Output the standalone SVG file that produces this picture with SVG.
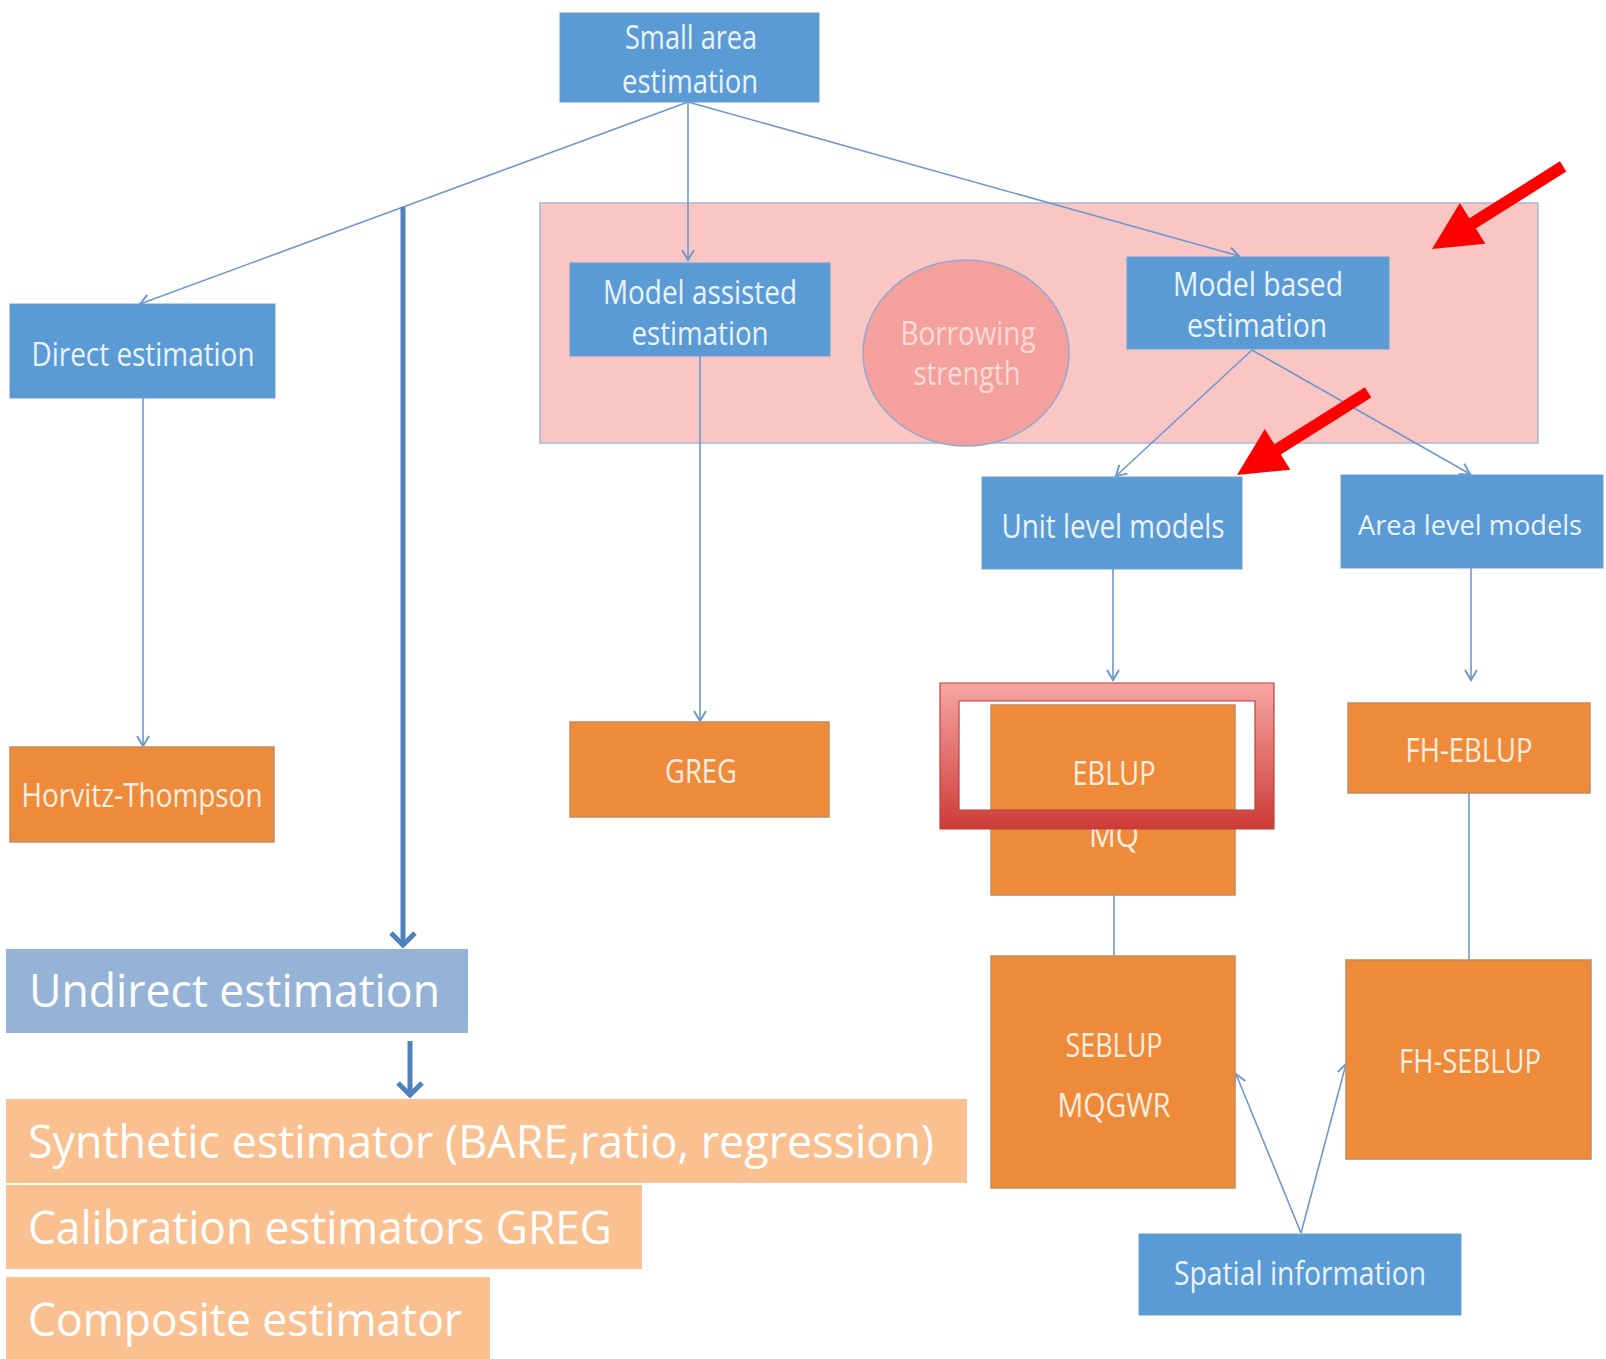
<svg xmlns="http://www.w3.org/2000/svg" width="1606" height="1359" viewBox="0 0 1606 1359">
<defs>
<style>
.blue{fill:#5b9bd5;stroke:#6a9fd2;stroke-width:1}
.org{fill:#ee8b3b;stroke:#c98a5c;stroke-width:1.5}
.t{font-family:"Open Sans","Liberation Sans",sans-serif;font-size:32px;fill:#eaf3fb;text-anchor:middle}
.to{font-family:"Open Sans","Liberation Sans",sans-serif;font-size:32px;fill:#fdeee0;text-anchor:middle}
.big{font-family:"Open Sans","Liberation Sans",sans-serif;font-size:45px;fill:#ffffff}
.c{stroke:#6f98cf;stroke-width:1.6;fill:none}
.ca{stroke:#6f98cf;stroke-width:1.6;fill:none;marker-end:url(#ah)}
.thick{stroke:#4f81bd;stroke-width:5;fill:none;marker-end:url(#ahb)}
.light{fill:#fac090}
</style>
<marker id="ah" markerWidth="16" markerHeight="16" viewBox="-12 -8 14 16" refX="0" refY="0" orient="auto" markerUnits="userSpaceOnUse">
<path d="M-10,-6 L0,0 L-10,6" fill="none" stroke="#6f98cf" stroke-width="2"/>
</marker>
<marker id="ahb" markerWidth="30" markerHeight="30" viewBox="-16 -15 18 30" refX="0" refY="0" orient="auto" markerUnits="userSpaceOnUse">
<path d="M-13,-12 L-1,0 L-13,12" fill="none" stroke="#4f81bd" stroke-width="5"/>
</marker>
<linearGradient id="rg" x1="0" y1="0" x2="0" y2="1">
<stop offset="0" stop-color="#f6a6a2"/>
<stop offset="1" stop-color="#cd3b37"/>
</linearGradient>
<polygon id="redarrow" points="0,0 53.4,-5.3 43.8,-20.5 134.3,-77.5 127.9,-87.7 37.4,-30.7 27.8,-45.9" fill="#ff0000"/>
</defs>
<rect width="1606" height="1359" fill="#ffffff"/>

<g id="region-box">
<rect x="540" y="203" width="998" height="240" fill="#f9c6c4" stroke="#a6b7d8" stroke-width="1.5"/>
</g>

<g id="connectors">
<line class="ca" x1="688" y1="102" x2="140" y2="304"/>
<line class="ca" x1="688" y1="102" x2="688" y2="260"/>
<line class="ca" x1="688" y1="102" x2="1239" y2="256"/>
<line class="ca" x1="700" y1="356" x2="700" y2="721"/>
<line class="ca" x1="143" y1="398" x2="143" y2="746"/>
<line class="ca" x1="1252" y1="350" x2="1116" y2="476"/>
<line class="ca" x1="1252" y1="350" x2="1470" y2="474"/>
<line class="ca" x1="1113" y1="569" x2="1113" y2="680"/>
<line class="ca" x1="1471" y1="568" x2="1471" y2="680"/>
<line class="c" x1="1114" y1="895" x2="1114" y2="956"/>
<line class="c" x1="1469" y1="793" x2="1469" y2="960"/>
<line class="ca" x1="1301" y1="1233" x2="1236" y2="1074"/>
<line class="ca" x1="1301" y1="1233" x2="1346" y2="1064"/>
<line class="thick" x1="403" y1="207" x2="403" y2="946"/>
<line class="thick" x1="410" y1="1041" x2="410" y2="1096"/>
</g>

<g id="n-small-area">
<rect class="blue" x="560" y="13" width="259" height="89"/>
<text class="t" x="691" y="49" textLength="132" lengthAdjust="spacingAndGlyphs">Small area</text>
<text class="t" x="690" y="93" textLength="136" lengthAdjust="spacingAndGlyphs">estimation</text>
</g>

<g id="n-direct">
<rect class="blue" x="10" y="304" width="265" height="94"/>
<text class="t" x="143" y="366" textLength="223" lengthAdjust="spacingAndGlyphs">Direct estimation</text>
</g>

<g id="n-model-assisted">
<rect class="blue" x="570" y="263" width="260" height="93"/>
<text class="t" x="700" y="304" textLength="194" lengthAdjust="spacingAndGlyphs">Model assisted</text>
<text class="t" x="700" y="345" textLength="137" lengthAdjust="spacingAndGlyphs">estimation</text>
</g>

<g id="n-borrowing">
<ellipse cx="966" cy="353" rx="103" ry="93" fill="#f4a19d" stroke="#93a8cf" stroke-width="1.5"/>
<text class="t" x="968" y="345" textLength="135" lengthAdjust="spacingAndGlyphs" style="fill:#fcd9d6">Borrowing</text>
<text class="t" x="967" y="385" textLength="107" lengthAdjust="spacingAndGlyphs" style="fill:#fcd9d6">strength</text>
</g>

<g id="n-model-based">
<rect class="blue" x="1127" y="257" width="262" height="92"/>
<text class="t" x="1258" y="296" textLength="170" lengthAdjust="spacingAndGlyphs">Model based</text>
<text class="t" x="1257" y="337" textLength="140" lengthAdjust="spacingAndGlyphs">estimation</text>
</g>

<g id="n-unit-level">
<rect class="blue" x="982" y="477" width="260" height="92"/>
<text class="t" x="1113" y="538" textLength="223" lengthAdjust="spacingAndGlyphs">Unit level models</text>
</g>

<g id="n-area-level">
<rect class="blue" x="1341" y="475" width="262" height="93"/>
<text class="t" x="1470" y="535" textLength="224" lengthAdjust="spacingAndGlyphs" style="font-size:28px">Area level models</text>
</g>

<g id="n-horvitz">
<rect class="org" x="10" y="747" width="264" height="95"/>
<text class="to" x="142" y="807" textLength="241" lengthAdjust="spacingAndGlyphs">Horvitz-Thompson</text>
</g>

<g id="n-greg">
<rect class="org" x="570" y="722" width="259" height="95"/>
<text class="to" x="701" y="783" textLength="72" lengthAdjust="spacingAndGlyphs">GREG</text>
</g>

<g id="n-eblup">
<rect class="org" x="991" y="705" width="244" height="190"/>
<text class="to" x="1114" y="785" textLength="83" lengthAdjust="spacingAndGlyphs">EBLUP</text>
<text class="to" x="1114" y="847" textLength="50" lengthAdjust="spacingAndGlyphs">MQ</text>
</g>

<g id="n-fh-eblup">
<rect class="org" x="1348" y="703" width="242" height="90"/>
<text class="to" x="1469" y="762" textLength="127" lengthAdjust="spacingAndGlyphs">FH-EBLUP</text>
</g>

<g id="n-seblup">
<rect class="org" x="991" y="956" width="244" height="232"/>
<text class="to" x="1114" y="1057" textLength="97" lengthAdjust="spacingAndGlyphs">SEBLUP</text>
<text class="to" x="1114" y="1117" textLength="113" lengthAdjust="spacingAndGlyphs">MQGWR</text>
</g>

<g id="n-fh-seblup">
<rect class="org" x="1346" y="960" width="245" height="199"/>
<text class="to" x="1470" y="1073" textLength="142" lengthAdjust="spacingAndGlyphs">FH-SEBLUP</text>
</g>

<g id="n-spatial">
<rect class="blue" x="1139" y="1234" width="322" height="81"/>
<text class="t" x="1300" y="1285" textLength="252" lengthAdjust="spacingAndGlyphs">Spatial information</text>
</g>

<g id="n-undirect">
<rect x="6" y="949" width="462" height="84" fill="#95b3d7"/>
<text class="big" x="29" y="1007" textLength="411" lengthAdjust="spacingAndGlyphs">Undirect estimation</text>
</g>

<g id="n-synthetic">
<rect class="light" x="6" y="1099" width="961" height="84"/>
<text class="big" x="28" y="1158" textLength="906" lengthAdjust="spacingAndGlyphs">Synthetic estimator (BARE,ratio, regression)</text>
</g>

<g id="n-calibration">
<rect class="light" x="6" y="1185" width="636" height="84"/>
<text class="big" x="28" y="1244" textLength="584" lengthAdjust="spacingAndGlyphs">Calibration estimators GREG</text>
</g>

<g id="n-composite">
<rect class="light" x="6" y="1277" width="484" height="82"/>
<text class="big" x="28" y="1336" textLength="434" lengthAdjust="spacingAndGlyphs">Composite estimator</text>
</g>

<g id="highlight">
<path d="M940,683 H1274 V829 H940 Z M959,701 V810 H1255 V701 Z" fill="url(#rg)" fill-rule="evenodd" stroke="#b8433f" stroke-width="1.2"/>
</g>

<g id="red-arrows">
<use href="#redarrow" transform="translate(1432,249)"/>
<use href="#redarrow" transform="translate(1237,475)"/>
</g>
</svg>
